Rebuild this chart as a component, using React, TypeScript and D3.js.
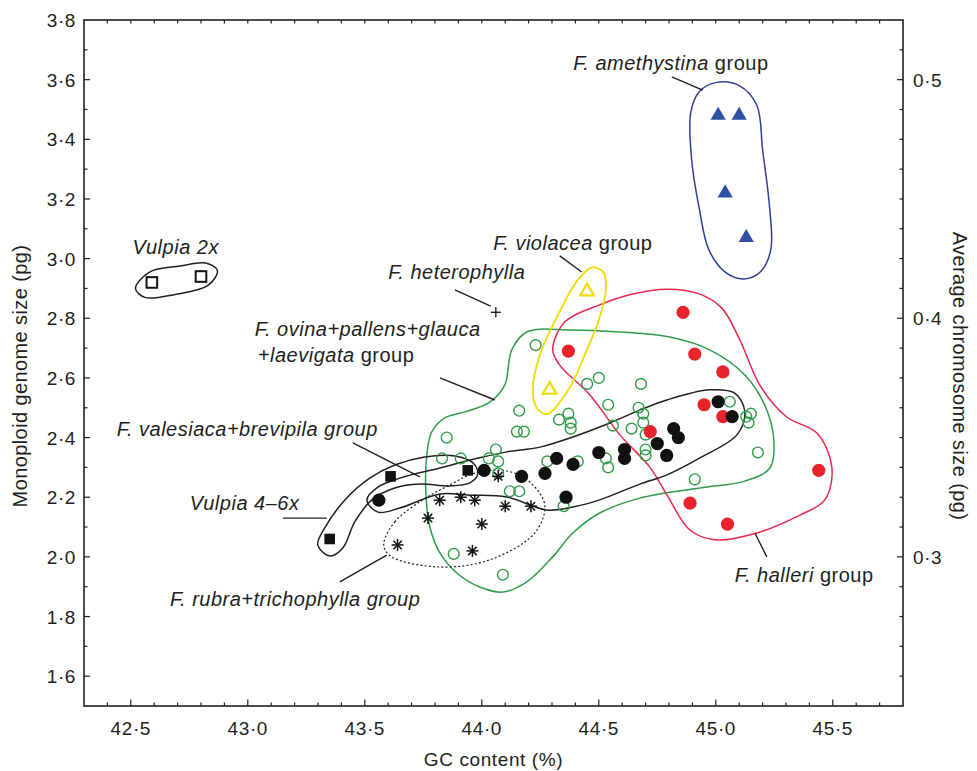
import React from "react";
import * as d3 from "d3";

// ---- data (GC content %, monoploid genome size pg) ----
const vulpia2x = [[42.59, 2.92], [42.80, 2.94]];
const heterophylla = [[44.06, 2.82]];
const amethystina = [[45.01, 3.48], [45.10, 3.48], [45.04, 3.22], [45.13, 3.07]];
const violacea = [[44.45, 2.89], [44.29, 2.56]];
const halleri = [
  [44.37, 2.69], [44.86, 2.82], [44.91, 2.68], [45.03, 2.62], [44.95, 2.51],
  [45.03, 2.47], [44.72, 2.42], [45.44, 2.29], [44.89, 2.18], [45.05, 2.11],
];
const valesiaca = [
  [43.56, 2.19], [44.01, 2.29], [44.17, 2.27], [44.27, 2.28], [44.32, 2.33],
  [44.39, 2.31], [44.36, 2.20], [44.50, 2.35], [44.61, 2.36], [44.61, 2.33],
  [44.75, 2.38], [44.82, 2.43], [44.84, 2.40], [44.79, 2.34], [45.01, 2.52],
  [45.07, 2.47],
];
const vulpia46x = [[43.35, 2.06], [43.61, 2.27], [43.94, 2.29]];
const rubra = [
  [43.82, 2.19], [43.91, 2.20], [43.97, 2.19], [44.10, 2.17], [44.21, 2.17],
  [43.77, 2.13], [44.00, 2.11], [43.64, 2.04], [43.96, 2.02], [44.07, 2.27],
];
const ovina = [
  [44.23, 2.71], [44.45, 2.58], [44.50, 2.60], [44.68, 2.58], [44.16, 2.49],
  [44.33, 2.46], [44.37, 2.48], [44.38, 2.45], [44.38, 2.43], [44.54, 2.51],
  [44.15, 2.42], [44.18, 2.42], [43.85, 2.40], [44.67, 2.50], [44.64, 2.43],
  [44.56, 2.44], [44.06, 2.36], [44.03, 2.33], [44.07, 2.32], [44.07, 2.28],
  [43.83, 2.33], [43.91, 2.33], [44.28, 2.32], [44.41, 2.32], [44.53, 2.33],
  [44.54, 2.30], [44.12, 2.22], [44.16, 2.22], [44.35, 2.17], [43.88, 2.01],
  [44.09, 1.94], [44.69, 2.48], [44.69, 2.45], [44.70, 2.41], [44.70, 2.36],
  [44.70, 2.34], [45.06, 2.52], [45.13, 2.47], [45.15, 2.48], [45.14, 2.45],
  [45.18, 2.35], [44.91, 2.26],
];

// group outlines, in data units
const hullVulpia2x = [
  [42.52, 2.90], [42.58, 2.955], [42.71, 2.975], [42.82, 2.985], [42.87, 2.96],
  [42.83, 2.91], [42.69, 2.88], [42.56, 2.87],
];
const hullAmethystina = [
  [44.893, 3.49], [44.93, 3.56], [45.00, 3.59], [45.10, 3.58], [45.175, 3.515],
  [45.20, 3.365], [45.23, 3.17], [45.235, 3.03], [45.19, 2.955], [45.12, 2.932],
  [45.04, 2.955], [44.97, 3.03], [44.93, 3.165], [44.897, 3.33],
];
const hullViolacea = [
  [44.47, 2.97], [44.52, 2.954], [44.53, 2.895], [44.50, 2.794], [44.44, 2.677],
  [44.37, 2.56], [44.28, 2.479], [44.235, 2.499], [44.218, 2.56], [44.248, 2.677],
  [44.325, 2.811], [44.41, 2.928],
];
const hullHalleri = [
  [44.303, 2.694], [44.355, 2.788], [44.504, 2.845], [44.645, 2.881], [44.791, 2.897],
  [44.932, 2.881], [45.026, 2.834], [45.103, 2.727], [45.188, 2.576], [45.303, 2.469],
  [45.432, 2.415], [45.496, 2.301], [45.466, 2.191], [45.359, 2.14], [45.175, 2.08],
  [44.996, 2.057], [44.889, 2.09], [44.791, 2.208], [44.718, 2.301], [44.59, 2.409],
  [44.462, 2.543], [44.333, 2.643],
];
const hullOvina = [
  [44.192, 2.754], [44.376, 2.761], [44.59, 2.754], [44.803, 2.737], [44.974, 2.694],
  [45.124, 2.61], [45.209, 2.509], [45.248, 2.392], [45.231, 2.298], [45.124, 2.254],
  [44.932, 2.231], [44.675, 2.197], [44.504, 2.147], [44.389, 2.08], [44.303, 2.0],
  [44.192, 1.916], [44.09, 1.882], [43.991, 1.899], [43.893, 1.946], [43.821, 2.013],
  [43.778, 2.10], [43.761, 2.214], [43.765, 2.342], [43.786, 2.419], [43.842, 2.466],
  [43.927, 2.486], [44.034, 2.519], [44.098, 2.576], [44.128, 2.694],
];
const hullValesiaca = [
  [43.509, 2.191], [43.556, 2.234], [43.65, 2.264], [43.821, 2.298], [43.991, 2.332],
  [44.107, 2.352], [44.248, 2.368], [44.389, 2.402], [44.547, 2.449], [44.675, 2.492],
  [44.791, 2.526], [44.974, 2.56], [45.081, 2.549], [45.124, 2.486], [45.09, 2.409],
  [44.932, 2.332], [44.791, 2.275], [44.675, 2.244], [44.504, 2.191], [44.389, 2.167],
  [44.278, 2.157], [44.107, 2.201], [43.949, 2.207], [43.821, 2.211], [43.65, 2.164],
  [43.556, 2.15],
];
const hullVulpia46x = [
  [43.299, 2.04], [43.329, 2.097], [43.415, 2.191], [43.521, 2.264], [43.628, 2.308],
  [43.756, 2.335], [43.885, 2.338], [43.962, 2.315], [43.983, 2.278], [43.949, 2.248],
  [43.863, 2.238], [43.735, 2.244], [43.628, 2.231], [43.53, 2.191], [43.457, 2.117],
  [43.406, 2.03], [43.35, 2.003],
];
const hullRubra = [
  [43.581, 2.04], [43.628, 2.117], [43.748, 2.191], [43.863, 2.241], [43.97, 2.281],
  [44.107, 2.288], [44.205, 2.251], [44.269, 2.174], [44.226, 2.08], [44.034, 1.99],
  [43.821, 1.966], [43.615, 2.0],
];

// leader lines [x1, y1, x2, y2]
const leaders = [
  [43.885, 2.895, 44.038, 2.841],
  [44.333, 3.009, 44.427, 2.955],
  [44.812, 3.609, 44.944, 3.565],
  [43.821, 2.60, 44.056, 2.526],
  [43.449, 2.382, 43.735, 2.268],
  [43.15, 2.13, 43.338, 2.13],
  [43.393, 1.916, 43.594, 2.006],
  [45.167, 2.08, 45.218, 2.0],
];

const xTicks = d3.range(424, 458).map((v) => v / 10);
const yTicks = d3.range(16, 38).map((v) => v / 10);
const rightTicks = d3.range(20, 42).map((k) => k * 0.0125);
const rightLabels = [0.3, 0.4, 0.5];

const FONT = "'Liberation Sans', Arial, sans-serif";
const GREEN = "#2f9c4a";
const RED = "#e8232c";
const RED_LINE = "#e9284a";
const BLUE = "#2f50a5";
const BLUE_LINE = "#2e3f98";
const YELLOW = "#f2dc00";

const fmt = (v: number) => d3.format(".1f")(v).replace(".", "\u00b7");

export default function App() {
  const left = 84, right = 903, top = 20, bottom = 706;
  const x = d3.scaleLinear().domain([42.3, 45.8]).range([left, right]);
  const y = d3.scaleLinear().domain([1.5, 3.8]).range([bottom, top]);
  const yR = d3.scaleLinear().domain([0.2375, 0.525]).range([bottom, top]);

  const hull = d3
    .line<number[]>()
    .x((d) => x(d[0]))
    .y((d) => y(d[1]))
    .curve(d3.curveCatmullRomClosed.alpha(0.5));

  const tri = d3.symbol().type(d3.symbolTriangle).size(100)() as string;
  const triOpen = d3.symbol().type(d3.symbolTriangle).size(80)() as string;

  const isMajorX = (v: number) => Math.round(v * 10) % 5 === 0;
  const isMajorY = (v: number) => Math.round(v * 10) % 2 === 0;

  const tick = { fontFamily: FONT, fontSize: 19, letterSpacing: 0.6, fill: "#231f20" };
  const note = { fontFamily: FONT, fontSize: 20, letterSpacing: 0.5, fill: "#231f20" };

  return (
    <svg width={977} height={771} style={{ position: "absolute", left: 0, top: 0, background: "#fff" }}>
      {/* frame */}
      <rect x={left} y={top} width={right - left} height={bottom - top} fill="none" stroke="#231f20" strokeWidth={1.6} />

      {/* x ticks bottom and top */}
      {xTicks.map((v) => {
        const len = isMajorX(v) ? 6.5 : 3.5;
        return (
          <g key={"xt" + v} stroke="#231f20" strokeWidth={1.2}>
            <line x1={x(v)} x2={x(v)} y1={bottom} y2={bottom - len} />
            <line x1={x(v)} x2={x(v)} y1={top} y2={top + 3.5} />
          </g>
        );
      })}
      {xTicks.filter(isMajorX).map((v) => (
        <text key={"xl" + v} x={x(v)} y={bottom + 29} textAnchor="middle" {...tick}>
          {fmt(v)}
        </text>
      ))}

      {/* left y ticks */}
      {yTicks.map((v) => (
        <line key={"yt" + v} x1={left} x2={left + (isMajorY(v) ? 6 : 3.5)} y1={y(v)} y2={y(v)} stroke="#231f20" strokeWidth={1.2} />
      ))}
      {[...yTicks.filter(isMajorY), 3.8].map((v) => (
        <text key={"yl" + v} x={left - 8} y={y(v) + 7} textAnchor="end" {...tick}>
          {fmt(v)}
        </text>
      ))}

      {/* right y ticks */}
      {rightTicks.map((v, i) => {
        const major = rightLabels.some((r) => Math.abs(r - v) < 1e-6);
        return (
          <line key={"rt" + i} x1={right} x2={right - (major ? 6 : 3.5)} y1={yR(v)} y2={yR(v)} stroke="#231f20" strokeWidth={1.2} />
        );
      })}
      {rightLabels.map((v) => (
        <text key={"rl" + v} x={right + 10} y={yR(v) + 7} textAnchor="start" {...tick}>
          {fmt(v)}
        </text>
      ))}

      {/* axis titles */}
      <text x={(left + right) / 2} y={766} textAnchor="middle" {...tick}>
        GC content (%)
      </text>
      <text transform={`translate(27,376) rotate(-90)`} textAnchor="middle" {...tick} fontSize={20} letterSpacing={0.4}>
        Monoploid genome size (pg)
      </text>
      <text transform={`translate(953,376) rotate(90)`} textAnchor="middle" {...tick} fontSize={20} letterSpacing={0.4}>
        Average chromosome size (pg)
      </text>

      {/* outlines */}
      <g fill="none" strokeWidth={1.5}>
        <path d={hull(hullOvina) as string} stroke={GREEN} />
        <path d={hull(hullHalleri) as string} stroke={RED_LINE} />
        <path d={hull(hullViolacea) as string} stroke={YELLOW} strokeWidth={1.8} />
        <path d={hull(hullAmethystina) as string} stroke={BLUE_LINE} />
        <path d={hull(hullVulpia2x) as string} stroke="#231f20" />
        <path d={hull(hullValesiaca) as string} stroke="#231f20" />
        <path d={hull(hullVulpia46x) as string} stroke="#231f20" />
        <path d={hull(hullRubra) as string} stroke="#231f20" strokeDasharray="2,2.2" strokeWidth={1.2} />
      </g>

      {/* leader lines */}
      {leaders.map((l, i) => (
        <line key={"ld" + i} x1={x(l[0])} y1={y(l[1])} x2={x(l[2])} y2={y(l[3])} stroke="#231f20" strokeWidth={1.4} />
      ))}

      {/* markers */}
      {ovina.map((d, i) => (
        <circle key={"ov" + i} cx={x(d[0])} cy={y(d[1])} r={5.4} fill="none" stroke={GREEN} strokeWidth={1.4} />
      ))}
      {halleri.map((d, i) => (
        <circle key={"ha" + i} cx={x(d[0])} cy={y(d[1])} r={6.6} fill={RED} />
      ))}
      {valesiaca.map((d, i) => (
        <circle key={"va" + i} cx={x(d[0])} cy={y(d[1])} r={6.6} fill="#111" />
      ))}
      {vulpia46x.map((d, i) => (
        <rect key={"v46" + i} x={x(d[0]) - 5.3} y={y(d[1]) - 5.3} width={10.6} height={10.6} fill="#111" />
      ))}
      {vulpia2x.map((d, i) => (
        <rect key={"v2" + i} x={x(d[0]) - 5.3} y={y(d[1]) - 5.3} width={10.6} height={10.6} fill="#fff" stroke="#111" strokeWidth={2} />
      ))}
      {rubra.map((d, i) => (
        <g key={"ru" + i} transform={`translate(${x(d[0])},${y(d[1])})`} stroke="#111" strokeWidth={1.5}>
          {[0, 45, 90, 135].map((a) => (
            <line key={a} x1={-6} x2={6} y1={0} y2={0} transform={`rotate(${a})`} />
          ))}
        </g>
      ))}
      {heterophylla.map((d, i) => (
        <g key={"he" + i} transform={`translate(${x(d[0])},${y(d[1])})`} stroke="#111" strokeWidth={1.3}>
          <line x1={-5} x2={5} y1={0} y2={0} />
          <line x1={0} x2={0} y1={-5} y2={5} />
        </g>
      ))}
      {amethystina.map((d, i) => (
        <path key={"am" + i} d={tri} transform={`translate(${x(d[0])},${y(d[1])})`} fill={BLUE} />
      ))}
      {violacea.map((d, i) => (
        <path key={"vi" + i} d={triOpen} transform={`translate(${x(d[0])},${y(d[1])})`} fill="#fff" stroke={YELLOW} strokeWidth={2.2} />
      ))}

      {/* annotations */}
      <text x={x(42.692)} y={y(3.016)} textAnchor="middle" {...note} fontStyle="italic">
        Vulpia 2x
      </text>
      <text x={x(43.893)} y={y(2.932)} textAnchor="middle" {...note} fontStyle="italic">
        F. heterophylla
      </text>
      <text x={x(44.389)} y={y(3.029)} textAnchor="middle" {...note}>
        <tspan fontStyle="italic">F. violacea</tspan> group
      </text>
      <text x={x(44.808)} y={y(3.632)} textAnchor="middle" {...note}>
        <tspan fontStyle="italic">F. amethystina</tspan> group
      </text>
      <text x={x(43.03)} y={y(2.74)} {...note} fontStyle="italic">
        F. ovina+pallens+glauca
      </text>
      <text x={x(43.043)} y={y(2.653)} {...note}>
        <tspan fontStyle="italic">+laevigata</tspan> group
      </text>
      <text x={x(42.44)} y={y(2.405)} {...note} fontStyle="italic">
        F. valesiaca+brevipila group
      </text>
      <text x={x(42.752)} y={y(2.157)} {...note} fontStyle="italic">
        Vulpia 4–6x
      </text>
      <text x={x(42.667)} y={y(1.835)} {...note} fontStyle="italic">
        F. rubra+trichophylla group
      </text>
      <text x={x(45.081)} y={y(1.916)} {...note}>
        <tspan fontStyle="italic">F. halleri</tspan> group
      </text>
    </svg>
  );
}
